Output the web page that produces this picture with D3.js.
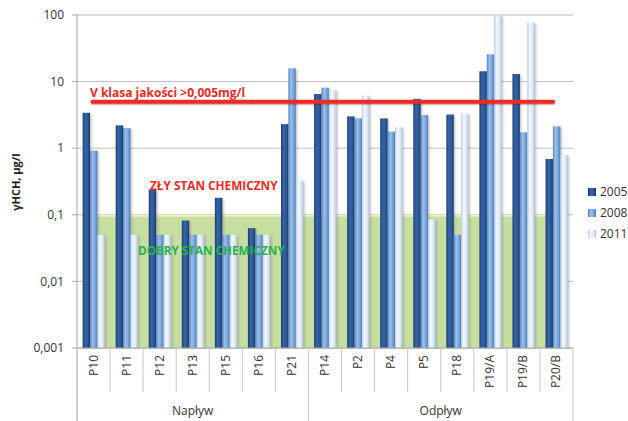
<!DOCTYPE html>
<html>
<head>
<meta charset="utf-8">
<script src="https://cdn.jsdelivr.net/npm/d3@7/dist/d3.min.js"></script>
<style>
  html, body { margin: 0; padding: 0; background: #fff; }
  svg { display: block; font-family: "Open Sans", "Liberation Sans", sans-serif; }
</style>
</head>
<body>
<svg id="chart" width="628" height="421"></svg>
<script>
// Sampling points (grouped: inflow / outflow)
const categories = ["P10", "P11", "P12", "P13", "P15", "P16", "P21",
                    "P14", "P2", "P4", "P5", "P18", "P19/A", "P19/B", "P20/B"];
const groups = [
  { name: "Napływ", members: ["P10", "P11", "P12", "P13", "P15", "P16", "P21"] },
  { name: "Odpływ", members: ["P14", "P2", "P4", "P5", "P18", "P19/A", "P19/B", "P20/B"] }
];
const years = ["2005", "2008", "2011"];
// γHCH concentration, µg/l
const values2005 = [3.4, 2.2, 0.24, 0.082, 0.18, 0.063, 2.3, 6.5, 3.0, 2.8, 5.5, 3.2, 14.3, 13, 0.69];
const values2008 = [0.92, 2.0, 0.05, 0.05, 0.05, 0.05, 15.8, 8.1, 2.8, 1.77, 3.15, 0.05, 25.7, 1.73, 2.13];
const values2011 = [0.05, 0.05, 0.05, 0.05, 0.05, 0.05, 0.33, 7.5, 6.1, 2.06, 0.085, 3.3, 98, 76.6, 0.79];
const yTicks = [0.001, 0.01, 0.1, 1, 10, 100];
const yTickLabels = ["0,001", "0,01", "0,1", "1", "10", "100"];
// class V limit (0,005 mg/l = 5 µg/l) and good chemical status limit
const classVLimit = 5;
const goodStatusLimit = 0.1;

const seriesValues = { "2005": values2005, "2008": values2008, "2011": values2011 };

const svg = d3.select("#chart");
const plot = { left: 77, right: 573, top: 15, bottom: 348 };

const x = d3.scaleBand().domain(categories).range([plot.left, plot.right]).padding(0);
const xInner = d3.scaleBand().domain(years)
  .range([x.bandwidth() * 0.17, x.bandwidth() * 0.84]).padding(0);
const y = d3.scaleLog().domain([0.001, 100]).range([plot.bottom, plot.top]);

// cylinder-like shading for each series
const defs = svg.append("defs");
const shades = {
  "2005": ["#1d3d6e", "#3565a8", "#2c5997", "#1a3866"],
  "2008": ["#5583bf", "#9cc0ea", "#78a5dc", "#4e7cb8"],
  "2011": ["#b9cde6", "#f4f8fd", "#dfe9f6", "#b3c7e1"]
};
years.forEach(yr => {
  const g = defs.append("linearGradient").attr("id", "grad" + yr)
    .attr("x1", "0%").attr("x2", "100%").attr("y1", "0%").attr("y2", "0%");
  const s = shades[yr];
  g.append("stop").attr("offset", "0%").attr("stop-color", s[0]);
  g.append("stop").attr("offset", "35%").attr("stop-color", s[1]);
  g.append("stop").attr("offset", "70%").attr("stop-color", s[2]);
  g.append("stop").attr("offset", "100%").attr("stop-color", s[3]);
});
const shadowFilter = defs.append("filter").attr("id", "soft")
  .attr("x", "-50%").attr("y", "-5%").attr("width", "200%").attr("height", "110%");
shadowFilter.append("feGaussianBlur").attr("stdDeviation", 0.8);

// gridlines
svg.append("g").selectAll("line").data(yTicks).join("line")
  .attr("x1", plot.left).attr("x2", plot.right)
  .attr("y1", d => y(d)).attr("y2", d => y(d))
  .attr("stroke", "#bdbdbd").attr("stroke-width", 1);

// good-status zone (below 0,1 µg/l)
const zoneX0 = x("P10") + x.bandwidth() * 0.48;
const zoneX1 = x("P20/B") + x.bandwidth() * 0.8;
svg.append("rect")
  .attr("x", zoneX0).attr("y", y(goodStatusLimit))
  .attr("width", zoneX1 - zoneX0).attr("height", y(0.001) - y(goodStatusLimit))
  .attr("fill", "#c6dea0");
svg.append("line")
  .attr("x1", zoneX0).attr("x2", zoneX1)
  .attr("y1", y(goodStatusLimit) + 1).attr("y2", y(goodStatusLimit) + 1)
  .attr("stroke", "#eef2c4").attr("stroke-width", 2);

// bars
const barW = xInner.bandwidth();
const barGroups = svg.append("g").selectAll("g").data(years).join("g");
barGroups.each(function(yr) {
  const gsel = d3.select(this);
  const vals = seriesValues[yr];
  const data = categories.map((c, i) => ({ c, v: vals[i] }));
  // soft shadow on the right of each bar
  gsel.selectAll("rect.shadow").data(data).join("rect").attr("class", "shadow")
    .attr("x", d => x(d.c) + xInner(yr) + 1.5)
    .attr("y", d => y(d.v) + 1)
    .attr("width", barW)
    .attr("height", d => y(0.001) - y(d.v) - 1)
    .attr("fill", "#7f7f7f").attr("opacity", 0.45)
    .attr("filter", "url(#soft)");
  gsel.selectAll("rect.bar").data(data).join("rect").attr("class", "bar")
    .attr("x", d => x(d.c) + xInner(yr))
    .attr("y", d => y(d.v))
    .attr("width", barW)
    .attr("height", d => y(0.001) - y(d.v))
    .attr("fill", "url(#grad" + yr + ")");
});

// y axis
svg.append("line")
  .attr("x1", plot.left).attr("x2", plot.left)
  .attr("y1", plot.top).attr("y2", 421)
  .attr("stroke", "#a6a6a6");
const yAxis = svg.append("g");
yAxis.selectAll("line").data(yTicks).join("line")
  .attr("x1", plot.left - 5).attr("x2", plot.left)
  .attr("y1", d => y(d)).attr("y2", d => y(d))
  .attr("stroke", "#a6a6a6");
yAxis.selectAll("text").data(yTicks).join("text")
  .attr("x", plot.left - 13).attr("y", d => y(d))
  .attr("dy", "0.35em").attr("text-anchor", "end")
  .attr("font-size", 12).attr("fill", "#333")
  .text((d, i) => yTickLabels[i]);

svg.append("text")
  .attr("transform", "translate(20,182) rotate(-90)")
  .attr("text-anchor", "middle")
  .attr("font-size", 11).attr("font-weight", "bold").attr("fill", "#222")
  .text("γHCH, µg/l");

// x axis: category labels and separators
svg.append("line")
  .attr("x1", plot.left).attr("x2", plot.right)
  .attr("y1", plot.bottom).attr("y2", plot.bottom)
  .attr("stroke", "#a6a6a6");
const xAxis = svg.append("g");
const groupEdges = new Set([plot.left, plot.right]);
groups.forEach(g => {
  groupEdges.add(x(g.members[0]));
  groupEdges.add(x(g.members[g.members.length - 1]) + x.bandwidth());
});
const edges = categories.map(c => x(c)).concat([plot.right]);
xAxis.selectAll("line").data(edges).join("line")
  .attr("x1", d => d).attr("x2", d => d)
  .attr("y1", plot.bottom)
  .attr("y2", d => [...groupEdges].some(e => Math.abs(e - d) < 0.5) ? 421 : 392)
  .attr("stroke", "#c8c8c8");
xAxis.selectAll("text").data(categories).join("text")
  .attr("transform", d => `translate(${x(d) + x.bandwidth() / 2 + 4},355) rotate(-90)`)
  .attr("text-anchor", "end")
  .attr("font-size", 12).attr("fill", "#333")
  .text(d => d);
svg.append("g").selectAll("text").data(groups).join("text")
  .attr("x", g => (x(g.members[0]) + x(g.members[g.members.length - 1]) + x.bandwidth()) / 2)
  .attr("y", 415)
  .attr("text-anchor", "middle")
  .attr("font-size", 12).attr("fill", "#333")
  .text(g => g.name);

// class V threshold line
const limX0 = x("P10") + x.bandwidth() * 0.47;
const limX1 = x("P20/B") + x.bandwidth() * 0.4;
svg.append("line")
  .attr("x1", limX0).attr("x2", limX1)
  .attr("y1", y(classVLimit) + 1.5).attr("y2", y(classVLimit) + 1.5)
  .attr("stroke", "#7a1a1a").attr("stroke-width", 4).attr("opacity", 0.3)
  .attr("stroke-linecap", "round");
svg.append("line")
  .attr("x1", limX0).attr("x2", limX1)
  .attr("y1", y(classVLimit)).attr("y2", y(classVLimit))
  .attr("stroke", "#ec2a26").attr("stroke-width", 4)
  .attr("stroke-linecap", "round");

// annotations
svg.append("text")
  .attr("x", 90).attr("y", 97)
  .attr("font-size", 12).attr("font-weight", "bold").attr("fill", "#ec2a26")
  .text("V klasa jakości >0,005mg/l");
svg.append("text")
  .attr("x", 150).attr("y", 190)
  .attr("font-size", 11.8).attr("font-weight", "bold").attr("fill", "#ec2a26")
  .text("ZŁY STAN CHEMICZNY");
svg.append("text")
  .attr("x", 138).attr("y", 255)
  .attr("font-size", 11.7).attr("font-weight", "bold").attr("fill", "#2ab24b")
  .text("DOBRY STAN CHEMICZNY");

// legend
const legend = svg.append("g").selectAll("g").data(years).join("g")
  .attr("transform", (d, i) => `translate(588,${192 + i * 21})`);
legend.append("rect")
  .attr("x", 0).attr("y", -4).attr("width", 8).attr("height", 8)
  .attr("fill", d => "url(#grad" + d + ")");
legend.append("text")
  .attr("x", 12).attr("y", 0).attr("dy", "0.35em")
  .attr("font-size", 12).attr("fill", "#333")
  .text(d => d);
</script>
</body>
</html>
